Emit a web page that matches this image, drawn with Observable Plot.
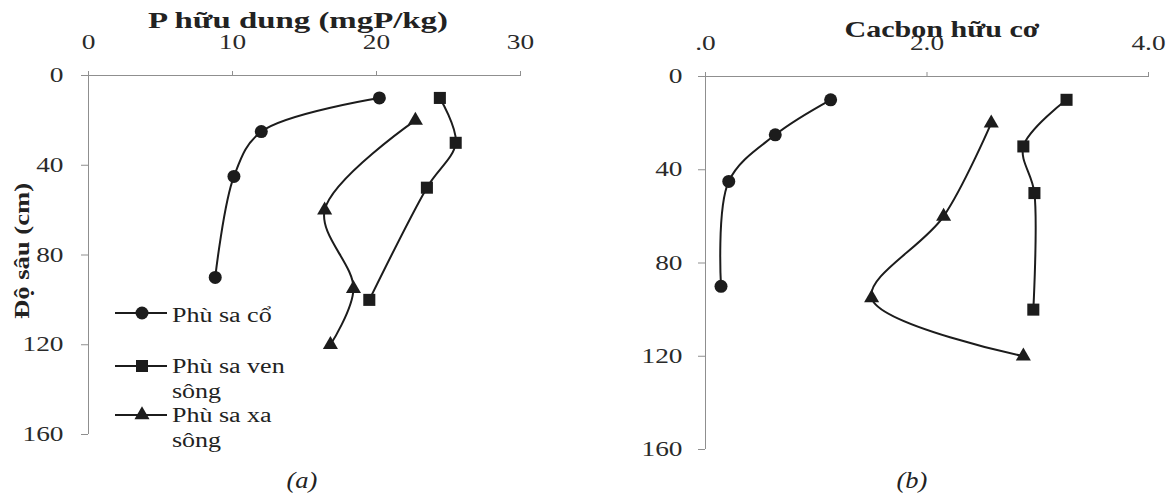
<!DOCTYPE html>
<html><head><meta charset="utf-8">
<script src="https://cdn.jsdelivr.net/npm/d3@7"></script>
<script src="https://cdn.jsdelivr.net/npm/@observablehq/plot@0.6"></script>
<style>
body{margin:0;background:#fff;}
#wrap{position:relative;width:1175px;height:501px;overflow:hidden;font-family:"Liberation Serif","Times New Roman",serif;color:#222;}
#wrap > svg{position:absolute;top:0;}
</style></head><body><div id="wrap"></div>
<script>
// ---- data ----
const seriesNames = ["Phù sa cổ", "Phù sa ven sông", "Phù sa xa sông"];
const depthCo  = [10, 25, 45, 90];
const depthVen = [10, 30, 50, 100];
const depthXa  = [20, 60, 95, 120];
// (a) P hữu dụng (mgP/kg)
const pCo  = [20.2, 12.0, 10.1, 8.8];
const pVen = [24.4, 25.5, 23.5, 19.5];
const pXa  = [22.7, 16.4, 18.4, 16.8];
// (b) Cacbon hữu cơ
const cCo  = [1.13, 0.63, 0.21, 0.14];
const cVen = [3.26, 2.87, 2.97, 2.96];
const cXa  = [2.58, 2.15, 1.50, 2.87];
const pTicks = [0, 10, 20, 30];
const cTicks = [0, 2, 4];
const cTickLabels = [".0", "2.0", "4.0"];
const depthTicks = [0, 40, 80, 120, 160];
const panelTitles = ["P hữu dung (mgP/kg)", "Cacbon hữu cơ"];
const panelTags = ["(a)", "(b)"];
const yTitle = "Độ sâu (cm)";

function rows(vals) {
  const depths = [depthCo, depthVen, depthXa];
  return vals.flatMap((v, i) => v.map((x, j) => ({series: seriesNames[i], depth: depths[i][j], value: x})));
}
const dataP = rows([pCo, pVen, pXa]);
const dataC = rows([cCo, cVen, cXa]);

const INK = "#1c1c1c", AX = "#8f8f8f";
const symbols = ["circle", "square", "triangle"];
const radii = [6.5, 6.8, 5.6];

function panel(data, o) {
  return Plot.plot({
    width: o.width, height: 501,
    marginLeft: o.ml, marginRight: o.mr, marginTop: o.mt, marginBottom: o.mb,
    style: {fontFamily: '"Liberation Serif", serif', fontSize: "21px", color: "#2a2a2a", background: "transparent", overflow: "visible"},
    x: {domain: o.xDomain},
    y: {domain: [0, 160], reverse: true},
    marks: [
      Plot.ruleY([0], {stroke: AX, strokeWidth: 1}),
      Plot.ruleX([0], {stroke: AX, strokeWidth: 1}),
      Plot.axisX({anchor: "top", ticks: o.xTicks, tickFormat: o.xFormat, tickSize: 5, tickPadding: o.xPad, stroke: AX, fill: "#2a2a2a", label: null}),
      Plot.axisY({anchor: "left", ticks: depthTicks, tickSize: 7, tickPadding: o.yPad, stroke: AX, fill: "#2a2a2a", label: null}),
      Plot.line(data, {x: "value", y: "depth", z: "series", curve: "catmull-rom", stroke: INK, strokeWidth: 2}),
      ...seriesNames.map((s, i) => Plot.dot(data.filter(d => d.series === s), {x: "value", y: "depth", symbol: symbols[i], r: radii[i], fill: INK, stroke: "none"}))
    ]
  });
}

const wrap = document.getElementById("wrap");
const left = panel(dataP, {width: 560, ml: 88, mr: 40, mt: 75, mb: 67, xDomain: [0, 30], xTicks: pTicks, xFormat: d => String(d), xPad: 22, yPad: 18});
left.style.left = "0px";
wrap.appendChild(left);
const right = panel(dataC, {width: 575, ml: 105, mr: 27, mt: 76, mb: 52, xDomain: [0, 4], xTicks: cTicks, xFormat: d => cTickLabels[cTicks.indexOf(d)], xPad: 22, yPad: 16});
right.style.left = "600px";
wrap.appendChild(right);

// horizontally stretch tick labels to match the scanned figure
const S = 1.3;
wrap.querySelectorAll("svg [aria-label$='tick label'] text").forEach(t => {
  const L = t.getComputedTextLength();
  t.setAttribute("textLength", (L * S).toFixed(1));
  t.setAttribute("lengthAdjust", "spacingAndGlyphs");
});

// ---- overlay: titles, legend, tags ----
const ov = d3.select(wrap).append("svg").attr("width", 1175).attr("height", 501)
  .style("left", "0px").style("font-family", '"Liberation Serif", serif').style("fill", "#222");

function txt(s, x, y, opt = {}) {
  const t = ov.append("text").attr("x", x).attr("y", y).text(s)
    .attr("text-anchor", opt.anchor || "start")
    .style("font-size", (opt.size || 20) + "px")
    .style("font-weight", opt.weight || "normal")
    .style("font-style", opt.style || "normal");
  if (opt.transform) t.attr("transform", opt.transform);
  const L = t.node().getComputedTextLength();
  const target = opt.width || L * (opt.sx || S);
  t.attr("textLength", target).attr("lengthAdjust", "spacingAndGlyphs");
  return t;
}

txt(panelTitles[0], 298, 28, {anchor: "middle", size: 24, weight: "bold", width: 300});
txt(panelTitles[1], 942, 37, {anchor: "middle", size: 23, weight: "bold", width: 195});
txt(yTitle, 0, 0, {anchor: "middle", size: 22, weight: "bold", width: 136, transform: "translate(29,251) rotate(-90)"});
txt(panelTags[0], 302, 488, {anchor: "middle", size: 23, style: "italic", sx: 1.15});
txt(panelTags[1], 912, 488, {anchor: "middle", size: 23, style: "italic", sx: 1.15});

// legend
const legendRows = [
  {y: 313, lines: ["Phù sa cổ"], base: 322},
  {y: 366, lines: ["Phù sa ven", "sông"], base: 373},
  {y: 415, lines: ["Phù sa xa", "sông"], base: 422}
];
const symGen = [d3.symbolCircle, d3.symbolSquare, d3.symbolTriangle];
legendRows.forEach((r, i) => {
  ov.append("line").attr("x1", 115).attr("x2", 167).attr("y1", r.y).attr("y2", r.y).attr("stroke", INK).attr("stroke-width", 2);
  ov.append("path").attr("d", d3.symbol(symGen[i], Math.PI * radii[i] * radii[i])()).attr("transform", `translate(142,${r.y})`).attr("fill", INK);
  r.lines.forEach((s, k) => txt(s, 172, r.base + k * 25, {size: 20}));
});
</script></body></html>
